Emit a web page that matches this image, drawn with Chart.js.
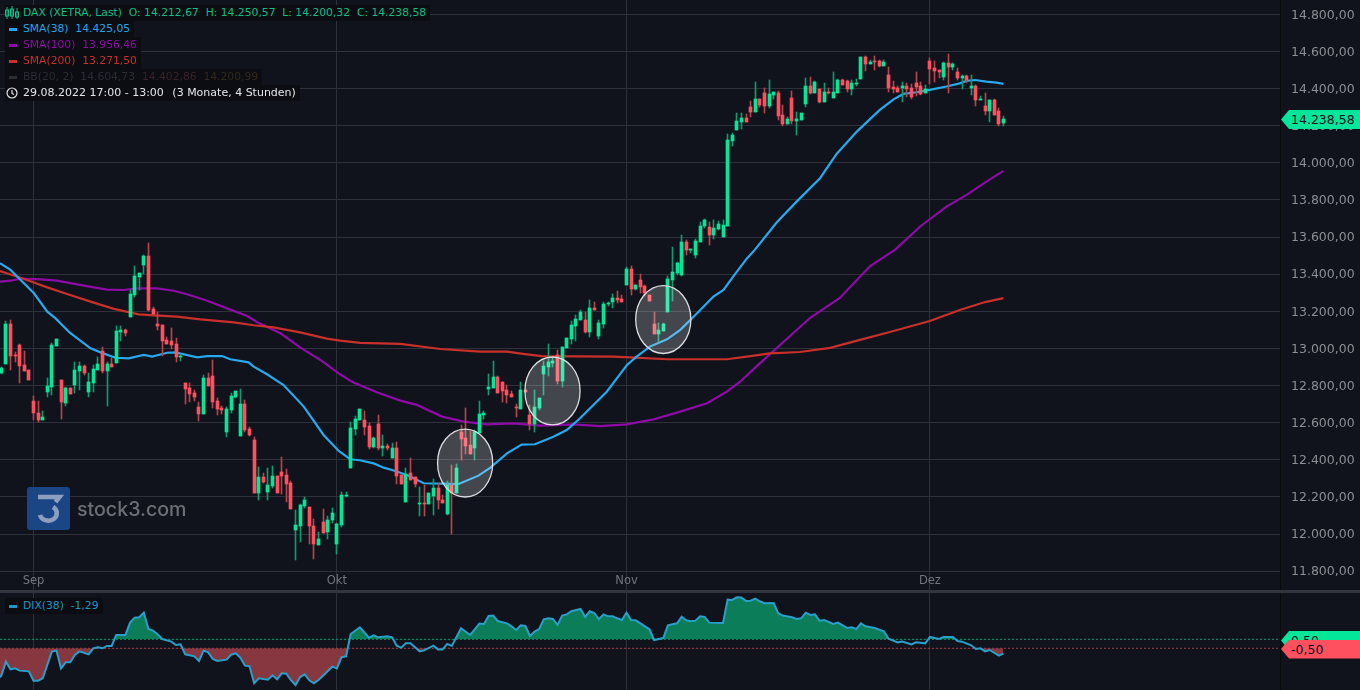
<!DOCTYPE html>
<html>
<head>
<meta charset="utf-8">
<title>DAX</title>
<script src="https://cdn.jsdelivr.net/npm/chart.js@4"></script>
<style>
  html, body { margin: 0; padding: 0; width: 1360px; height: 690px; overflow: hidden; background: #10131b; }
  body { position: relative; font-family: "DejaVu Sans", sans-serif; font-size: 10.75px; }
  canvas { position: absolute; left: 0; }
  #mainChart { top: 0; }
  #dixChart { top: 593px; }
  #divider { position: absolute; left: 0; top: 590px; width: 1360px; height: 3px; background: #32353e; }
  .row { position: absolute; left: 5px; height: 16px; line-height: 16px; padding-right: 4px; background: #0b0d12; white-space: pre; }
  .row .swatch { position: absolute; left: 4px; top: 7px; width: 8px; height: 3px; }
  .row .label { margin-left: 18px; }
  .row svg { position: absolute; left: 0; top: 1px; }
  .tag { position: absolute; left: 1281px; width: 79px; height: 19px; line-height: 19px; color: #10131b; font-size: 12.5px;
         text-indent: 10px; clip-path: polygon(0 50%, 8px 0, 100% 0, 100% 100%, 8px 100%); }
  #watermark { position: absolute; left: 26.5px; top: 486.5px; }
  #watermark span { position: absolute; left: 50.5px; top: 9px; font: 500 19.6px/26px Inter, sans-serif; color: #6c6f75; white-space: pre; }
</style>
</head>
<body>
<canvas id="mainChart" width="1360" height="590"></canvas>
<canvas id="dixChart" width="1360" height="97"></canvas>
<div id="divider"></div>

<div id="watermark">
  <svg width="43" height="43" viewBox="0 0 43 43">
    <rect width="43" height="43" rx="3" fill="#1a4686"></rect>
    <path d="M11 10h21.500l-4 5" fill="none" stroke="#8d9fbf" stroke-width="4.500"></path>
    <path d="M13 28a8.500 7.500 0 1 0 13-8" fill="none" stroke="#8d9fbf" stroke-width="4.500"></path>
  </svg>
  <span>stock3.com</span>
</div>

<div class="row" style="top:5px;color:#0cbf86"><svg width="14" height="14" viewBox="0 0 14 14" fill="none" stroke="#0cbf86"><path d="M2 1v12M7 0v13M12 2v11"></path><rect x=".5" y="4" width="3" height="6"></rect><rect x="5.500" y="3" width="3" height="7"></rect><rect x="10.500" y="6" width="3" height="5"></rect></svg><span class="label">DAX (XETRA, Last)  O: 14.212,67  H: 14.250,57  L: 14.200,32  C: 14.238,58</span></div>
<div class="row" style="top:21px;color:#21a6e8"><i class="swatch" style="background:#21a6e8"></i><span class="label">SMA(38)  14.425,05</span></div>
<div class="row" style="top:37px;color:#8f0aa8"><i class="swatch" style="background:#8f0aa8"></i><span class="label">SMA(100)  13.956,46</span></div>
<div class="row" style="top:53px;color:#c9302a"><i class="swatch" style="background:#c9302a"></i><span class="label">SMA(200)  13.271,50</span></div>
<div class="row" style="top:69px;color:#2a2d36"><i class="swatch" style="background:#2a2d36"></i><span class="label">BB(20, 2)  14.604,73  <span style="color:#3a2228">14.402,86</span>  <span style="color:#33281c">14.200,99</span></span></div>
<div class="row" style="top:85px;color:#e4e5e8;font-size:11px"><svg width="14" height="14" viewBox="0 0 14 14" fill="none" stroke="#e4e5e8" stroke-width="1.200"><circle cx="7" cy="7" r="5"></circle><path d="M7 4v3.400l2 1.200"></path></svg><span class="label">29.08.2022 17:00 - 13:00  <span style="margin-left:1.5px">(3 Monate, 4 Stunden)</span></span></div>
<div class="row" style="top:598px;color:#2096c4"><i class="swatch" style="background:#2096c4"></i><span class="label">DIX(38)  -1,29</span></div>

<div class="tag" style="top:110px;background:#04e699">14.238,58</div>
<div class="tag" style="top:631px;background:#04e699">0,50</div>
<div class="tag" style="top:639.5px;background:#ff5060">-0,50</div>

<script>
// 4h candles of the DAX, one entry per bar
const candleOpen = [
  12870,12918,13132,12965,13017,12911,12884,12717,12653,12615,
  12766,12794,13015,12830,12706,12787,12803,12879,12906,12766,
  12814,12884,12986,12879,12916,12922,13089,13099,13169,13288,
  13385,13450,13498,13213,13132,13126,13046,13040,13024,12954,
  12814,12787,12760,12685,12647,12841,12852,12717,12679,12550,
  12669,12739,12529,12701,12566,12507,12222,12308,12227,12260,
  12313,12335,12319,12276,12023,12044,12152,12147,12044,11942,
  12066,12012,12077,11947,12049,12205,12356,12566,12615,12615,
  12582,12469,12593,12464,12475,12410,12464,12319,12173,12329,
  12308,12162,12168,12162,12205,12249,12184,12109,12265,12222,
  12550,12518,12480,12464,12545,12642,12782,12787,12846,12819,
  12776,12755,12685,12674,12776,12642,12593,12679,12863,12900,
  12922,12965,12825,13003,13051,13121,13153,13153,13089,13218,
  13067,13132,13240,13250,13272,13266,13342,13428,13320,13369,
  13336,13288,13132,13078,13094,13196,13369,13406,13396,13573,
  13530,13503,13576,13660,13655,13612,13644,13601,13660,14118,
  14177,14220,14242,14301,14274,14344,14376,14306,14366,14376,
  14258,14210,14350,14226,14231,14317,14414,14376,14398,14328,
  14382,14350,14376,14446,14441,14398,14425,14452,14570,14533,
  14549,14549,14522,14473,14409,14403,14403,14414,14403,14430,
  14414,14376,14549,14511,14500,14463,14538,14516,14490,14457,
  14468,14403,14414,14339,14306,14280,14339,14280,14212.67
];
const candleHigh = [
  12900,13148,13153,12983,13022,12986,12884,12744,12717,12663,
  12841,13031,13051,12830,12794,12787,12927,12929,12911,12866,
  12911,12954,13008,12927,12947,13121,13121,13105,13315,13444,
  13406,13503,13568,13223,13196,13126,13062,13110,13056,12970,
  12814,12814,12776,12712,12857,12866,12938,12733,12690,12685,
  12760,12771,12782,12723,12577,12523,12362,12330,12357,12367,
  12313,12416,12351,12287,12130,12162,12199,12147,12082,12012,
  12136,12098,12141,12060,12227,12227,12604,12636,12674,12663,
  12599,12523,12642,12534,12486,12491,12496,12319,12356,12410,
  12308,12256,12265,12222,12297,12274,12211,12286,12372,12378,
  12588,12679,12556,12561,12717,12663,12863,12933,12852,12819,
  12803,12771,12701,12819,12776,12696,12776,12733,12933,13022,
  12952,12992,13010,13056,13146,13180,13207,13195,13261,13250,
  13153,13250,13250,13293,13310,13288,13439,13444,13342,13401,
  13342,13288,13196,13137,13137,13390,13546,13466,13611,13584,
  13536,13590,13680,13700,13682,13693,13687,13693,14156,14161,
  14269,14269,14263,14333,14436,14344,14403,14446,14382,14387,
  14312,14247,14387,14274,14269,14457,14463,14441,14398,14430,
  14403,14490,14452,14452,14446,14446,14452,14570,14576,14554,
  14576,14554,14554,14516,14441,14414,14436,14430,14425,14490,
  14436,14420,14565,14549,14500,14543,14586,14538,14511,14473,
  14473,14473,14420,14360,14376,14339,14344,14296,14250.57
];
const candleLow = [
  12865,12918,12884,12929,12816,12879,12832,12615,12604,12615,
  12740,12749,13015,12620,12692,12757,12760,12776,12857,12739,
  12766,12884,12866,12690,12900,12922,13040,13067,13169,13277,
  13315,13401,13202,13186,13099,12959,13024,12997,12927,12933,
  12701,12712,12717,12609,12647,12798,12679,12642,12647,12523,
  12653,12733,12529,12550,12529,12222,12184,12276,12184,12249,
  12222,12217,12173,12136,11861,11958,12141,11947,11866,11942,
  12007,11974,12060,11893,12040,12200,12356,12534,12615,12534,
  12459,12464,12453,12421,12453,12410,12270,12270,12173,12292,
  12254,12098,12098,12162,12103,12135,12168,12103,12001,12222,
  12399,12432,12432,12399,12545,12620,12749,12787,12760,12712,
  12706,12739,12631,12674,12766,12561,12550,12669,12749,12852,
  12900,12809,12793,13003,13024,13040,13153,13083,13062,13207,
  13051,13110,13229,13218,13245,13250,13342,13288,13315,13299,
  13283,13256,13078,13035,13094,13196,13256,13396,13390,13503,
  13514,13487,13576,13649,13558,13590,13637,13601,13660,14091,
  14177,14183,14220,14247,14274,14301,14269,14296,14344,14231,
  14199,14210,14210,14150,14231,14301,14371,14376,14323,14328,
  14370,14350,14376,14420,14382,14366,14414,14452,14495,14533,
  14500,14516,14522,14382,14376,14382,14328,14355,14344,14360,
  14366,14376,14425,14436,14457,14446,14376,14500,14446,14398,
  14430,14366,14306,14339,14258,14220,14258,14199,14200.32
];
const candleClose = [
  12897,13132,12961,12959,12907,12879,12832,12653,12615,12631,
  12798,13019,13051,12712,12787,12757,12884,12906,12866,12819,
  12889,12916,12879,12916,12900,13094,13099,13083,13293,13390,
  13406,13498,13207,13186,13121,13040,13024,13019,12954,12959,
  12782,12755,12739,12647,12841,12798,12712,12674,12669,12674,
  12744,12771,12701,12561,12534,12222,12308,12281,12265,12313,
  12222,12313,12270,12136,12049,12157,12184,12044,11947,11974,
  12007,12077,12114,12055,12211,12211,12572,12620,12674,12577,
  12469,12518,12464,12475,12464,12464,12313,12270,12324,12292,
  12270,12168,12162,12222,12249,12184,12168,12265,12222,12356,
  12512,12475,12432,12550,12647,12652,12793,12846,12760,12771,
  12749,12739,12681,12776,12766,12593,12685,12733,12906,12927,
  12933,12825,13008,13056,13126,13159,13196,13089,13218,13207,
  13137,13240,13245,13272,13261,13250,13428,13320,13342,13331,
  13299,13256,13078,13099,13132,13374,13412,13460,13573,13530,
  13536,13579,13662,13693,13612,13649,13671,13666,14123,14150,
  14226,14242,14220,14274,14344,14312,14306,14371,14382,14253,
  14210,14236,14226,14236,14269,14414,14376,14436,14328,14382,
  14376,14382,14446,14420,14398,14430,14430,14570,14533,14543,
  14543,14522,14543,14403,14398,14382,14414,14398,14355,14409,
  14371,14398,14506,14495,14490,14538,14516,14533,14457,14468,
  14446,14414,14339,14344,14280,14339,14258,14210,14238.58
];

// moving averages at their bends: bar number, value
const sma38Bars = [-0.3,2,4.2,7.1,10,11.8,14.9,19.4,21.6,24.8,27.7,31,32.8,36.1,37.9,42.6,44.8,48,49.8,53.8,54.9,57.8,61.4,65.8,70.1,73.4,
  75.9,78,81,83.2,85.7,88.2,91.9,95.5,99.5,103.8,106.4,110,113.2,116.1,120.1,123,125.9,128.8,131.7,133.9,136.1,138.2,141.1,144.8,147.7,150.6,154.9,157.1,159.2,162.2,
  163.9,168.7,173,178.1,181.7,186.1,191.1,194.1,196.2,199.1,202,205.6,208.5,210,211.8,214.3,216.5,218];
const sma38Values = [13459,13423,13369,13297,13198,13162,13085,13001,12979,12950,12947,12965,12956,12977,12979,12952,12959,12959,12942,12925,12902,12861,12803,12687,12534,12448,
  12403,12398,12381,12358,12340,12319,12274,12272,12270,12315,12358,12435,12482,12484,12525,12561,12624,12696,12767,12839,12911,12956,13010,13049,13100,13171,13279,13315,13387,13485,
  13531,13680,13791,13917,14048,14168,14285,14342,14371,14380,14393,14411,14428,14441,14446,14437,14432,14425.05];
const sma100Bars = [-0.3,2,4.2,8.5,12.1,16.5,20.1,23,26.6,29.5,33.9,37.5,40.4,44.8,49.1,53.5,55.6,60.7,65,69.4,73.7,
  76.6,81.7,86.8,90.4,95.9,100.6,105.6,111.4,117.2,124.5,130.3,136,141.9,147.7,153.5,157.8,160.7,165,169.4,
  175.9,182.4,189,194.4,199.9,205.6,210,214.3,218];
const sma100Values = [13360,13365,13376,13372,13365,13345,13329,13317,13315,13324,13324,13311,13292,13257,13216,13175,13143,13082,13006,12938,12861,
  12816,12764,12719,12696,12633,12606,12591,12597,12584,12591,12582,12591,12618,12660,12705,12767,12821,12920,13019,
  13164,13272,13444,13531,13657,13764,13827,13899,13956.46];
const sma200Bars = [-0.3,4.2,10,14.3,20.1,24.5,29.9,33.2,38.2,43.3,50.6,54.9,59.2,65,70.8,73.7,
  78.1,86.8,95.5,104.2,110,113.9,117.5,133.2,136.8,144.8,157.8,162.2,167.2,173.7,180.3,186.8,193.3,202,208.5,214,218];
const sma200Values = [13417,13381,13329,13293,13247,13213,13184,13178,13171,13157,13141,13125,13114,13087,13053,13042,
  13030,13025,12997,12983,12983,12970,12959,12956,12952,12942,12942,12956,12974,12981,13003,13046,13089,13148,13207,13250,13271.5];

// DIX(38) in the lower pane
const dixBars = [-1,0,1,2,3,4,6,7,8,9,11,12,13,14,15,16,17,19,20,21,22,23,24,25,27,28,29,30,31,32,33,34,35,37,38,39,40,42,43,44,45,46,47,49,50,51,52,53,54,55,56,58,59,60,61,62,63,64,65,66,67,68,69,72,73,74,75,76,78,80,81,82,84,85,86,87,88,89,91,92,94,95,96,97,98,100,102,104,105,106,107,108,
  110,111,112,113,114,115,116,117,118,119,120,121,122,123,124,126,127,128,129,130,131,132,133,134,135,136,137,138,141,142,144,145,146,147,148,149,150,151,152,153,154,157,158,159,160,161,162,163,164,165,166,168,169,170,172,173,174,175,176,177,178,179,181,182,184,185,186,187,188,190,192,193,195,196,198,199,201,202,204,205,207,208,209,211,212,213,214,215,217,218];
const dixValues = [-4.00,-3.54,-1.99,-2.84,-2.73,-2.98,-3.06,-4.10,-4.10,-3.84,-0.87,-0.76,-2.73,-2.06,-2.06,-1.24,-0.84,-1.17,-0.50,-0.39,-0.50,-0.24,-0.24,0.98,0.98,2.35,2.90,2.94,3.46,1.64,1.46,1.05,0.53,0.24,-0.13,-0.06,-1.17,-1.39,-1.91,-0.76,-0.95,-1.69,-1.91,-1.76,-1.21,-1.06,-1.54,-2.43,-2.50,-4.39,-3.84,-3.99,-3.50,-3.95,-3.28,-3.32,-4.02,-4.58,-3.69,-3.39,-4.06,-4.39,-4.02,-2.54,-2.73,-1.50,-1.39,1.09,1.83,0.68,0.94,0.72,0.83,0.72,-0.21,-0.43,0.05,0.05,-0.84,-0.73,-0.21,-0.62,-0.62,-0.01,-0.24,1.72,0.98,2.24,2.20,3.09,3.13,2.53,
  2.27,1.94,1.53,2.05,1.98,0.87,1.35,1.64,2.72,2.83,2.76,2.09,3.13,3.27,3.61,3.87,2.98,3.61,3.42,2.72,3.27,3.05,3.05,2.83,2.64,3.46,2.64,2.61,1.61,0.42,0.64,2.05,2.16,2.27,3.01,2.61,2.50,2.57,3.05,2.98,2.35,2.31,4.90,4.87,5.16,5.13,4.76,4.79,5.01,4.72,4.50,4.53,3.39,3.13,2.94,2.76,2.83,3.46,3.20,3.27,2.57,2.64,2.20,2.35,1.76,1.83,1.64,2.27,1.94,1.76,1.38,0.57,0.16,0.24,-0.06,0.16,0.05,0.76,0.53,0.76,0.76,0.31,0.24,-0.17,-0.58,-0.50,-0.84,-0.69,-1.32,-1.10];
const dixUpperBand = 0.5;
const dixLowerBand = -0.5;

// axes
const priceTicks = [11800,12000,12200,12400,12600,12800,13000,13200,13400,13600,13800,14000,14200,14400,14600,14800];
const monthBars = [7,73,136,202];
const monthLabels = ['Sep','Okt','Nov','Dez'];

// circles someone drew on the chart: bar, price, half width in bars, half height in points
const circleBars = [100.9,119.9,144];
const circlePrices = [12383,12771,13156];
const circleBarRadius = 6;
const circlePriceRadius = 183;

const barMin = -0.287;
const barMax = 278.16;
const gridColor = '#2e3139';
const axisEdge = '#08090d';
const upBody = '#04e699', upWick = '#0c9c6e';
const downBody = '#ff5060', downWick = '#b8444e';

function pairs(xs, ys) {
  return xs.map(function (x, i) { return { x: x, y: ys[i] }; });
}

function isUp(i) {
  return candleClose[i] >= candleOpen[i];
}

function priceLabel(v) {
  return v.toLocaleString('de-DE', { minimumFractionDigits: 2, maximumFractionDigits: 2 });
}

function smaLine(label, bars, values, color, order) {
  return {
    type: 'line', label: label, data: pairs(bars, values), borderColor: color,
    borderWidth: 2.2, pointRadius: 0, tension: 0, fill: false, order: order
  };
}

// x axis shared by both panes, month lines only
function monthAxis(showLabels) {
  return {
    type: 'linear', min: barMin, max: barMax, offset: false,
    afterBuildTicks: function (scale) {
      scale.ticks = monthBars.map(function (b) { return { value: b }; });
    },
    afterFit: function (scale) { scale.height = 0; },
    grid: { color: gridColor, offset: false, drawTicks: false },
    border: { display: false },
    ticks: {
      display: showLabels, autoSkip: false, maxRotation: 0, mirror: true, padding: 2, color: '#72757c',
      font: { family: 'DejaVu Sans', size: 11.5 },
      callback: function (v) { return monthLabels[monthBars.indexOf(v)]; }
    }
  };
}

// candles land on whole pixels so wicks stay 1px sharp
const crispCandles = {
  id: 'crispCandles',
  beforeDatasetsDraw: function (chart) {
    chart.getSortedVisibleDatasetMetas().forEach(function (meta) {
      if (meta.type !== 'bar') return;
      meta.data.forEach(function (el) {
        el.x = Math.floor(el.x) + 0.5;
        el.y = Math.round(el.y);
        el.base = Math.round(el.base);
        if (el.y === el.base) el.base = el.y + 1;
      });
    });
  }
};

const circlePlugin = {
  id: 'circles',
  afterDatasetsDraw: function (chart) {
    const x = chart.scales.x, y = chart.scales.y, ctx = chart.ctx;
    circleBars.forEach(function (bar, i) {
      const cx = x.getPixelForValue(bar), cy = y.getPixelForValue(circlePrices[i]);
      const rx = x.getPixelForValue(bar + circleBarRadius) - cx;
      const ry = cy - y.getPixelForValue(circlePrices[i] + circlePriceRadius);
      ctx.save();
      ctx.beginPath();
      ctx.ellipse(cx, cy, rx, ry, 0, 0, Math.PI * 2);
      ctx.fillStyle = 'rgba(255,255,255,0.22)';
      ctx.fill();
      ctx.lineWidth = 1.3;
      ctx.strokeStyle = '#dcdde0';
      ctx.stroke();
      ctx.restore();
    });
  }
};

const barNumbers = candleClose.map(function (c, i) { return i; });

new Chart(document.getElementById('mainChart'), {
  type: 'bar',
  data: {
    datasets: [
      smaLine('SMA(38)', sma38Bars, sma38Values, '#27a9ee', 3),
      smaLine('SMA(100)', sma100Bars, sma100Values, '#8e0ba8', 5),
      smaLine('SMA(200)', sma200Bars, sma200Values, '#c9302a', 4),
      {
        label: 'wick', grouped: false, barThickness: 1, order: 2,
        data: barNumbers.map(function (i) { return { x: i, y: [candleLow[i], candleHigh[i]] }; }),
        backgroundColor: barNumbers.map(function (i) { return isUp(i) ? upWick : downWick; })
      },
      {
        label: 'body', grouped: false, barThickness: 3, order: 1,
        data: barNumbers.map(function (i) { return { x: i, y: [candleOpen[i], candleClose[i]] }; }),
        backgroundColor: barNumbers.map(function (i) { return isUp(i) ? upBody : downBody; })
      }
    ]
  },
  options: {
    responsive: false, animation: false, devicePixelRatio: 1,
    layout: { padding: 0 },
    plugins: { legend: { display: false }, tooltip: { enabled: false } },
    scales: {
      x: monthAxis(true),
      y: {
        position: 'right', min: 11699, max: 14877,
        afterBuildTicks: function (scale) {
          scale.ticks = priceTicks.map(function (v) { return { value: v }; });
        },
        afterFit: function (scale) {
          scale.width = 80;
          scale.paddingTop = 0;
          scale.paddingBottom = 0;
        },
        grid: { color: gridColor, drawTicks: false },
        border: { color: axisEdge },
        ticks: {
          padding: 11, labelOffset: 1, color: '#8b8e95', font: { family: 'DejaVu Sans', size: 12.5 },
          callback: function (v) { return priceLabel(v); }
        }
      }
    }
  },
  plugins: [crispCandles, circlePlugin]
});

new Chart(document.getElementById('dixChart'), {
  type: 'line',
  data: {
    datasets: [
      {
        label: 'DIX above', data: pairs(dixBars, dixValues), borderWidth: 0, pointRadius: 0, tension: 0, order: 4,
        fill: { target: { value: dixUpperBand }, above: '#0b7d58', below: 'rgba(0,0,0,0)' }
      },
      {
        label: 'DIX below', data: pairs(dixBars, dixValues), borderWidth: 0, pointRadius: 0, tension: 0, order: 4,
        fill: { target: { value: dixLowerBand }, above: 'rgba(0,0,0,0)', below: '#87373f' }
      },
      {
        label: 'upper', data: pairs([barMin, barMax], [dixUpperBand, dixUpperBand]), borderColor: '#0c9c6e',
        borderWidth: 1, borderDash: [2, 2], pointRadius: 0, fill: false, order: 3
      },
      {
        label: 'lower', data: pairs([barMin, barMax], [dixLowerBand, dixLowerBand]), borderColor: '#a03f48',
        borderWidth: 1, borderDash: [2, 2], pointRadius: 0, fill: false, order: 2
      },
      {
        label: 'DIX(38)', data: pairs(dixBars, dixValues), borderColor: '#2a9fca',
        borderWidth: 2, pointRadius: 0, tension: 0, fill: false, order: 1
      }
    ]
  },
  options: {
    responsive: false, animation: false, devicePixelRatio: 1,
    layout: { padding: 0 },
    plugins: { legend: { display: false }, tooltip: { enabled: false } },
    scales: {
      x: monthAxis(false),
      y: {
        position: 'right', min: -5.13, max: 5.64,
        afterFit: function (scale) { scale.width = 80; },
        grid: { display: false },
        border: { color: axisEdge },
        ticks: { display: false }
      }
    }
  }
});
</script>
</body>
</html>
